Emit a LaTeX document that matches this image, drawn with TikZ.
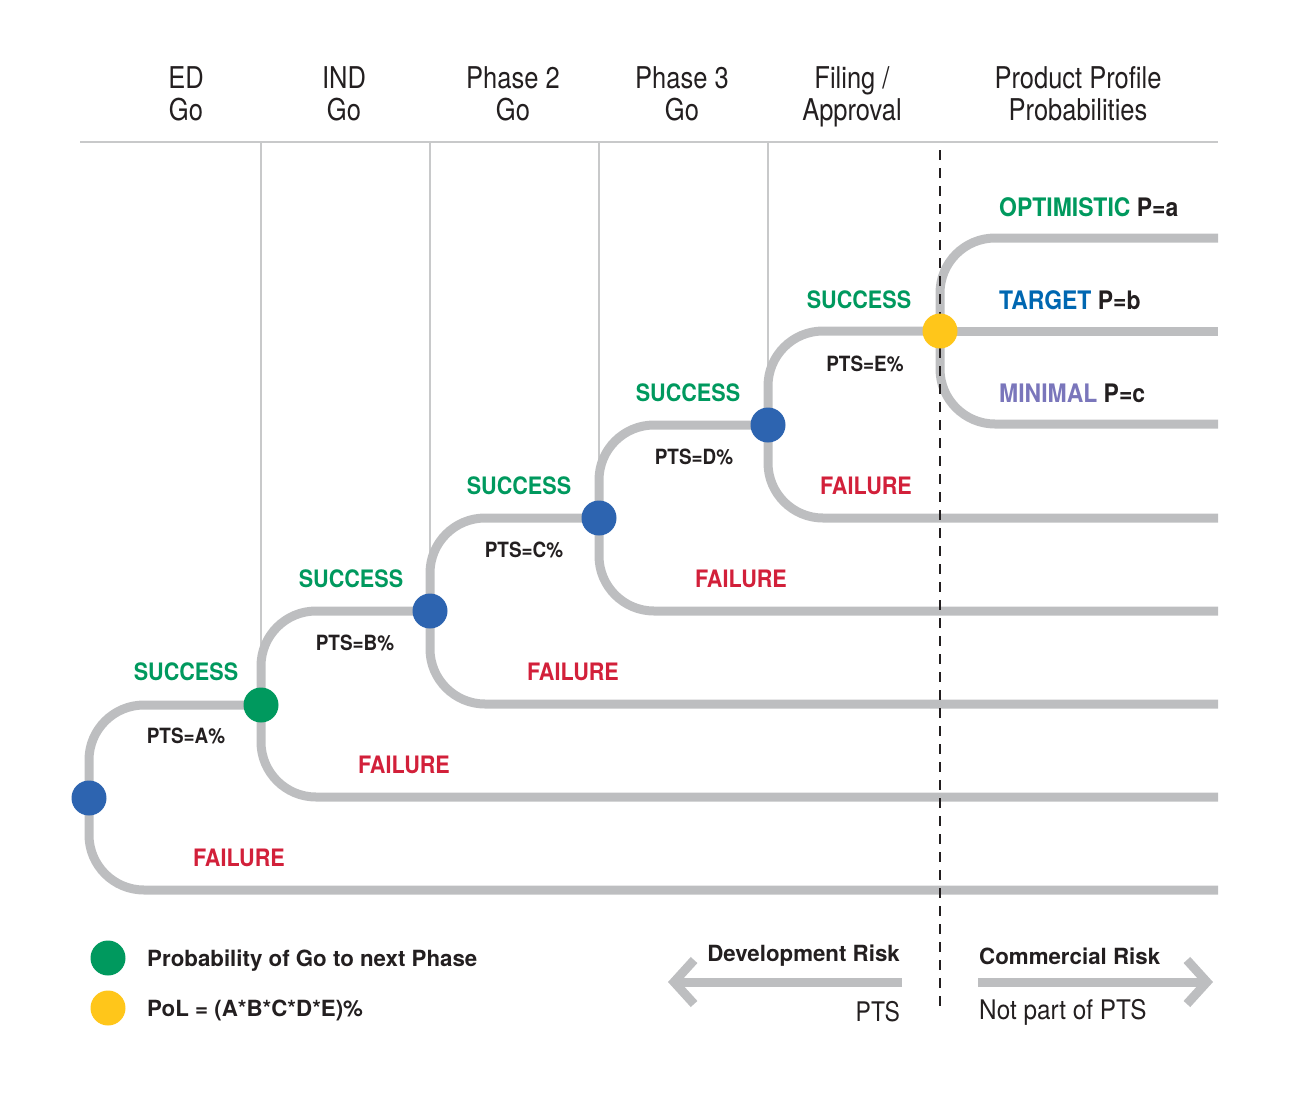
\documentclass[tikz,border=0pt]{standalone}
\usepackage{fontspec}
\setmainfont{TeX Gyre Heros}
\newfontfamily\condfont{TeX Gyre Heros}[FakeStretch=0.85]
\newfontfamily\labfont{TeX Gyre Heros}[FakeStretch=0.9]
\usetikzlibrary{arrows.meta}

\definecolor{txt}{HTML}{231F20}
\definecolor{trackgray}{HTML}{BDBEC0}
\definecolor{rulegray}{HTML}{C8C9CA}
\definecolor{sgreen}{HTML}{00995E}
\definecolor{fred}{HTML}{D2203A}
\definecolor{dotblue}{HTML}{2D64B0}
\definecolor{dotyellow}{HTML}{FFC61A}
\definecolor{tblue}{HTML}{0067B1}
\definecolor{mpurple}{HTML}{7A76BB}

\begin{document}
\begin{tikzpicture}[x=1pt,y=-1pt,
    every node/.style={inner sep=0pt},
    head/.style={font=\condfont\fontsize{30}{32}\selectfont, align=center, text=txt, text depth=0pt},
    lab/.style={font=\labfont\bfseries\fontsize{24}{26}\selectfont},
    prob/.style={font=\labfont\bfseries\fontsize{25.5}{27}\selectfont, text=txt, anchor=west},
    pts/.style={font=\labfont\bfseries\fontsize{21}{24}\selectfont, text=txt},
    note/.style={font=\bfseries\fontsize{22.3}{24}\selectfont, text=txt},
    risk/.style={font=\condfont\fontsize{27}{30}\selectfont, text=txt},
    track/.style={line width=9pt, draw=trackgray, rounded corners=55pt},
    rule/.style={line width=2pt, draw=rulegray},
    riskarrow/.style={line width=9pt, draw=trackgray, -{Straight Barb[length=20pt,width=44pt]}},
    phasedot/.style={circle, fill=#1, minimum size=35pt}]
        \useasboundingbox (0,0) rectangle (1302,1104);

        % header
        \foreach \x/\t/\i in {186/{ED\\Go}/1, 344/{IND\\Go}/2, 513/{Phase 2\\Go}/3, 682/{Phase 3\\Go}/4, 852/{Filing \smash{/}\\Approval}/5, 1078/{Product Profile\\Probabilities}/6}
         \node[head] (head\i) at (\x,94) {\t};

        \coordinate (ruleL) at (80,142);
        \coordinate (ruleR) at (1218,142);
        \draw[rule] (ruleL) -- (ruleR);

	\foreach \x/\y/\i in {89/798/0, 261/705/1, 430/611/2, 599/518/3, 768/425/4, 940/331/5}
	 \coordinate (p\i) at (\x,\y);

	\foreach \x/\i in {261/1, 430/2, 599/3, 768/4}
	 \draw[rule] (\x,142) -- (p\i);

	% tracks
	\foreach \i/\j in {0/1, 1/2, 2/3, 3/4, 4/5}
	 \draw[track] (p\i) |- (p\j);

	\foreach \y/\i in {890/0, 797/1, 704/2, 611/3, 518/4}
	 {\coordinate (f\i) at (1218,\y);
	  \draw[track] (p\i) |- (f\i);}

	\coordinate (optE) at (1218,238);
	\coordinate (tarE) at (1218,331);
	\coordinate (minE) at (1218,424);
	\draw[track] (p5) |- (optE);
	\draw[track] (p5) -- (tarE);
	\draw[track] (p5) |- (minE);

	% commercial / development split
	\coordinate (splitT) at (940,150);
	\coordinate (splitB) at (940,1012);
	\draw[line width=2.5pt, txt, dash pattern=on 10pt off 8pt] (splitT) -- (splitB);

	\foreach \i in {0,2,3,4}
	 \node[phasedot=dotblue] (d\i) at (p\i) {};
	\node[phasedot=sgreen] (d1) at (p1) {};
	\node[phasedot=dotyellow] (d5) at (p5) {};

	% labels
	\foreach \x/\y/\i in {186/672/0, 351/579/1, 519/486/2, 688/393/3, 859/300/4}
	 \node[lab, text=sgreen] (succ\i) at (\x,\y) {SUCCESS};
	\foreach \x/\y/\l in {186/736/A, 355/643/B, 524/550/C, 694/457/D, 865/364/E}
	 \node[pts] (pts\l) at (\x,\y) {PTS=\l\%};
	\foreach \x/\y/\i in {239/858/0, 404/765/1, 573/672/2, 741/579/3, 866/486/4}
	 \node[lab, text=fred] (fail\i) at (\x,\y) {FAILURE};

	\node[prob] (opt) at (999,207) {\textcolor{sgreen}{OPTIMISTIC} P=a};
	\node[prob] (tar) at (999,300) {\textcolor{tblue}{TARGET} P=b};
	\node[prob] (min) at (999,393) {\textcolor{mpurple}{MINIMAL} P=c};

	% legend
	\node[phasedot=sgreen] (legG) at (108,958) {};
	\node[phasedot=dotyellow] (legY) at (108,1008) {};
	\node[note, anchor=west] (legGt) at (147,961) {Probability of Go to next Phase};
	\node[note, anchor=west] (legYt) at (147,1010) {PoL = (A*B*C*D*E)\%};

	% risk arrows
	\coordinate (devS) at (902,982);
	\coordinate (devE) at (668,982);
	\coordinate (comS) at (978,982);
	\coordinate (comE) at (1213,982);
	\draw[riskarrow] (devS) -- (devE);
	\draw[riskarrow] (comS) -- (comE);
	\node[note, anchor=east] (dev) at (900,956) {Development Risk};
	\node[risk, anchor=east] (devPts) at (900,1012) {PTS};
	\node[note, anchor=west] (com) at (979,956) {Commercial Risk};
	\node[risk, anchor=west, font=\labfont\fontsize{27}{30}\selectfont] (comPts) at (979,1012) {Not part of PTS};

\end{tikzpicture}
\end{document}
